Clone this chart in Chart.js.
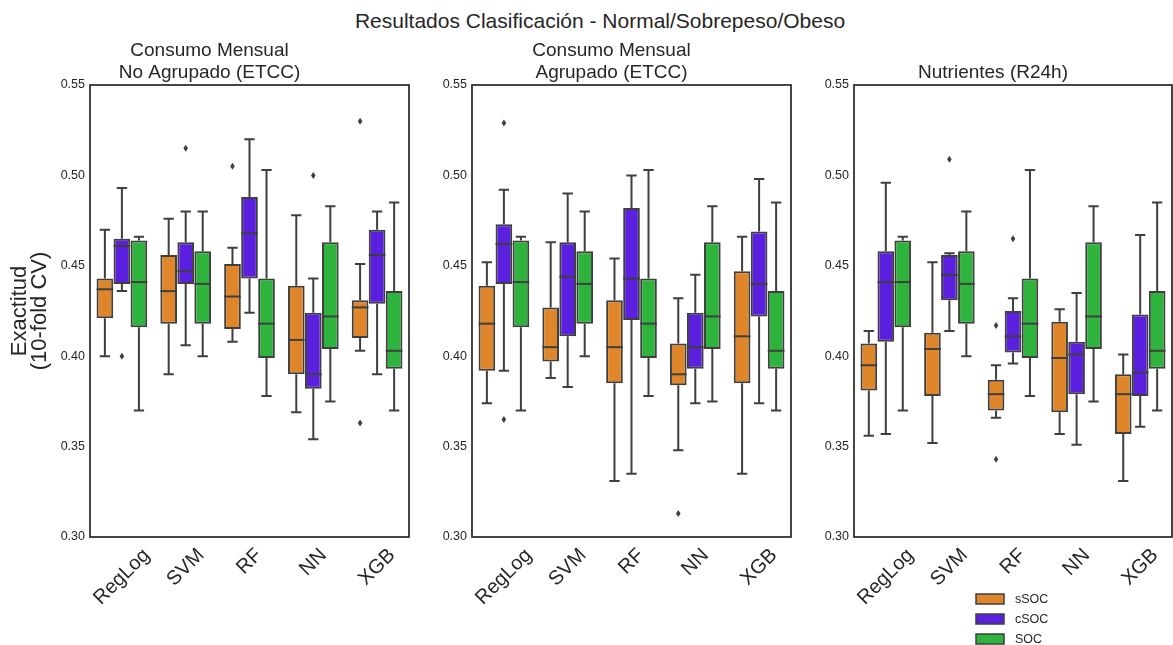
<!DOCTYPE html>
<html>
<head>
<meta charset="utf-8">
<script src="https://cdn.jsdelivr.net/npm/chart.js@4.4.1/dist/chart.umd.min.js"></script>
<style>
  html, body { margin:0; padding:0; background:#fff; width:1173px; height:645px; overflow:hidden; }
  body { position:relative; }
  canvas { position:absolute; top:0; }
  #sup { position:absolute; left:600px; top:10px; transform:translateX(-50%); white-space:nowrap;
         font:21px "Liberation Sans", Arial, sans-serif; line-height:21px; color:#262626; }
</style>
</head>
<body>
<div id="sup">Resultados Clasificación - Normal/Sobrepeso/Obeso</div>
<canvas id="c1" width="420" height="645" style="left:0px"></canvas>
<canvas id="c2" width="380" height="645" style="left:420px"></canvas>
<canvas id="c3" width="373" height="645" style="left:800px"></canvas>
<script>
// ---------------- DATA ----------------
const categories = ['RegLog', 'SVM', 'RF', 'NN', 'XGB'];
const seriesNames = ['sSOC', 'cSOC', 'SOC'];
const yTicks = [0.30, 0.35, 0.40, 0.45, 0.50, 0.55];
const panelTitles = [['Consumo Mensual', 'No Agrupado (ETCC)'], ['Consumo Mensual', 'Agrupado (ETCC)'], ['Nutrientes (R24h)']];
const yLabel = ['Exactitud', '(10-fold CV)'];

// each entry: [min whisker, Q1, median, Q3, max whisker]
// Panel 1: Consumo Mensual - No Agrupado
const noAgr_sSOC = [[0.400,0.421,0.437,0.443,0.470],[0.390,0.418,0.436,0.456,0.476],[0.408,0.415,0.433,0.451,0.460],[0.369,0.390,0.409,0.439,0.478],[0.403,0.410,0.427,0.431,0.451]];
const noAgr_sSOC_out = [[],[],[0.505],[],[0.530,0.363]];
const noAgr_cSOC = [[0.436,0.440,0.461,0.465,0.493],[0.406,0.440,0.447,0.463,0.480],[0.424,0.443,0.468,0.488,0.520],[0.354,0.382,0.390,0.424,0.443],[0.390,0.429,0.456,0.470,0.480]];
const noAgr_cSOC_out = [[0.400],[0.515],[],[0.500],[]];
// SOC (same in every panel)
const SOC_box = [[0.370,0.416,0.441,0.464,0.466],[0.400,0.418,0.440,0.458,0.480],[0.378,0.399,0.418,0.443,0.503],[0.375,0.404,0.422,0.463,0.483],[0.370,0.393,0.403,0.436,0.485]];
const SOC_out = [[],[],[],[],[]];
// Panel 2: Consumo Mensual - Agrupado
const agr_sSOC = [[0.374,0.392,0.418,0.439,0.452],[0.388,0.397,0.405,0.427,0.463],[0.331,0.385,0.405,0.431,0.454],[0.348,0.384,0.390,0.407,0.432],[0.335,0.385,0.411,0.447,0.466]];
const agr_sSOC_out = [[],[],[],[0.313],[]];
const agr_cSOC = [[0.392,0.440,0.462,0.473,0.492],[0.383,0.411,0.444,0.463,0.490],[0.335,0.420,0.443,0.482,0.500],[0.374,0.393,0.405,0.424,0.445],[0.374,0.422,0.440,0.469,0.498]];
const agr_cSOC_out = [[0.529,0.365],[],[],[],[]];
// Panel 3: Nutrientes (R24h)
const nut_sSOC = [[0.356,0.381,0.395,0.407,0.414],[0.352,0.378,0.404,0.413,0.452],[0.366,0.370,0.379,0.387,0.395],[0.357,0.369,0.399,0.419,0.426],[0.331,0.357,0.379,0.390,0.401]];
const nut_sSOC_out = [[],[],[0.417,0.343],[],[]];
const nut_cSOC = [[0.357,0.408,0.441,0.458,0.496],[0.414,0.431,0.445,0.456,0.457],[0.396,0.402,0.411,0.425,0.432],[0.351,0.379,0.401,0.408,0.435],[0.361,0.378,0.391,0.423,0.467]];
const nut_cSOC_out = [[],[0.509],[0.465],[],[]];

// ---------------- STYLE ----------------
const FONT = '"Liberation Sans", Arial, sans-serif';
const TEXT = '#262626';
const LINE = '#3f3f3f';
const fills = ['#E0862A', '#5B1FE0', '#2EB43C'];

const boxPlugin = {
  id: 'boxWhiskers',
  afterDatasetsDraw(chart) {
    const ctx = chart.ctx, y = chart.scales.y;
    chart.data.datasets.forEach((ds, di) => {
      const meta = chart.getDatasetMeta(di);
      meta.data.forEach((bar, i) => {
        const st = ds.stats[i];
        const x = bar.x, w = bar.width;
        const pMin = y.getPixelForValue(st[0]), pQ1 = y.getPixelForValue(st[1]),
              pMed = y.getPixelForValue(st[2]), pQ3 = y.getPixelForValue(st[3]),
              pMax = y.getPixelForValue(st[4]);
        ctx.save();
        ctx.strokeStyle = LINE; ctx.lineWidth = 2;
        ctx.lineCap = 'butt';
        ctx.beginPath();
        ctx.moveTo(x, pQ3); ctx.lineTo(x, pMax);
        ctx.moveTo(x, pQ1); ctx.lineTo(x, pMin);
        ctx.stroke();
        ctx.lineCap = 'square';
        ctx.beginPath();
        ctx.moveTo(x - w / 4, pMax); ctx.lineTo(x + w / 4, pMax);
        ctx.moveTo(x - w / 4, pMin); ctx.lineTo(x + w / 4, pMin);
        ctx.stroke();
        ctx.lineCap = 'butt';
        ctx.beginPath();
        ctx.moveTo(x - w / 2, pMed); ctx.lineTo(x + w / 2, pMed);
        ctx.stroke();
        ctx.fillStyle = LINE;
        (ds.outliers[i] || []).forEach(v => {
          const py = y.getPixelForValue(v);
          ctx.beginPath();
          ctx.moveTo(x, py - 3.5); ctx.lineTo(x + 2.3, py); ctx.lineTo(x, py + 3.5); ctx.lineTo(x - 2.3, py);
          ctx.closePath(); ctx.fill();
        });
        ctx.restore();
      });
    });
  }
};

const framePlugin = {
  id: 'frameAndLabels',
  afterDraw(chart) {
    const ctx = chart.ctx, a = chart.chartArea, xs = chart.scales.x;
    ctx.save();
    ctx.strokeStyle = TEXT; ctx.lineWidth = 1.7;
    ctx.strokeRect(a.left, a.top, a.right - a.left, a.bottom - a.top);
    // rotated category labels (centered on tick, like matplotlib rotation=45)
    const fs = 20;
    ctx.font = fs + 'px ' + FONT;
    ctx.fillStyle = TEXT;
    ctx.textAlign = 'center'; ctx.textBaseline = 'middle';
    xs.getLabels().forEach((lab, i) => {
      const x = xs.getPixelForTick(i);
      const w = ctx.measureText(lab).width, h = fs * 1.15;
      const cy = a.bottom + 7 + (w + h) / (2 * Math.SQRT2);
      ctx.save(); ctx.translate(x, cy); ctx.rotate(-Math.PI / 4); ctx.fillText(lab, 0, 0); ctx.restore();
    });
    ctx.restore();
  }
};

const legendPlugin = {
  id: 'boxLegend',
  afterDraw(chart, args, opts) {
    if (!opts.show) return;
    const ctx = chart.ctx;
    ctx.save();
    ctx.font = '12.5px ' + FONT;
    ctx.textBaseline = 'middle'; ctx.textAlign = 'left';
    chart.data.datasets.forEach((ds, i) => {
      const yy = 594 + i * 20;
      ctx.fillStyle = ds.backgroundColor;
      ctx.fillRect(opts.x, yy, 28, 10);
      ctx.strokeStyle = LINE; ctx.lineWidth = 1.5;
      ctx.strokeRect(opts.x, yy, 28, 10);
      ctx.fillStyle = TEXT;
      ctx.fillText(ds.label, opts.x + 39, yy + 5.5);
    });
    ctx.restore();
  }
};

function makePanel(id, cfg) {
  const datasets = cfg.boxes.map((b, i) => ({
    label: seriesNames[i],
    data: b.map(s => [s[1], s[3]]),
    stats: b,
    outliers: cfg.outs[i],
    backgroundColor: fills[i],
    borderColor: LINE,
    borderWidth: 2,
    borderSkipped: false,
    categoryPercentage: 0.8,
    barPercentage: 0.98
  }));
  const titleLines = cfg.title.length;
  return new Chart(document.getElementById(id), {
    type: 'bar',
    data: { labels: categories, datasets },
    plugins: [boxPlugin, framePlugin, legendPlugin],
    options: {
      responsive: false,
      animation: false,
      layout: { padding: { left: cfg.padLeft, right: cfg.padRight, top: 85 - (titleLines * 22 + 1), bottom: 108 } },
      plugins: {
        legend: { display: false },
        tooltip: { enabled: false },
        title: {
          display: true, text: cfg.title, color: TEXT,
          font: { family: FONT, size: 19, weight: 'normal', lineHeight: 22 / 19 },
          padding: { top: 0, bottom: 1 }
        },
        boxLegend: { show: !!cfg.legend, x: cfg.legendX || 0 }
      },
      scales: {
        x: {
          type: 'category',
          ticks: { display: false },
          grid: { display: false, drawTicks: false },
          border: { display: false },
          afterFit: s => { s.height = 0; }
        },
        y: {
          type: 'linear', min: 0.30, max: 0.55,
          afterBuildTicks: s => { s.ticks = yTicks.map(v => ({ value: v })); },
          ticks: { color: TEXT, padding: 5, font: { family: FONT, size: 12.5 }, callback: v => Number(v).toFixed(2) },
          grid: { display: false, drawTicks: false },
          border: { display: false },
          title: {
            display: !!cfg.ylabel, text: yLabel, color: TEXT,
            font: { family: FONT, size: 22, lineHeight: 20 / 22 },
            padding: { top: 0, bottom: 0 }
          },
          afterFit: s => { s.width = cfg.yWidth; }
        }
      }
    }
  });
}

makePanel('c1', { title: panelTitles[0], boxes: [noAgr_sSOC, noAgr_cSOC, SOC_box], outs: [noAgr_sSOC_out, noAgr_cSOC_out, SOC_out],
  padLeft: 10, yWidth: 80, padRight: 11, ylabel: true });
makePanel('c2', { title: panelTitles[1], boxes: [agr_sSOC, agr_cSOC, SOC_box], outs: [agr_sSOC_out, agr_cSOC_out, SOC_out],
  padLeft: 12, yWidth: 40, padRight: 9 });
makePanel('c3', { title: panelTitles[2], boxes: [nut_sSOC, nut_cSOC, SOC_box], outs: [nut_sSOC_out, nut_cSOC_out, SOC_out],
  padLeft: 14, yWidth: 40, padRight: 1, legend: true, legendX: 176 });
</script>
</body>
</html>
